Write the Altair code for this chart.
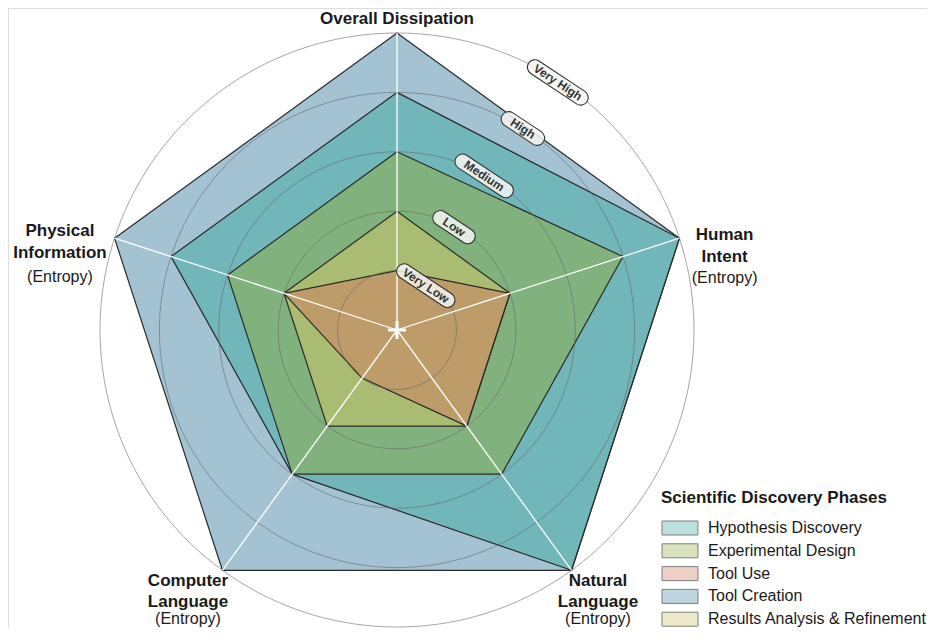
import math
import pandas as pd
import altair as alt

# ---------------- data ----------------
axes = ["Overall Dissipation", "Human Intent", "Natural Language",
        "Computer Language", "Physical Information"]
axis_title_lines = [["Overall Dissipation"], ["Human", "Intent"], ["Natural", "Language"],
                    ["Computer", "Language"], ["Physical", "Information"]]
axis_subtitle = ["", "(Entropy)", "(Entropy)", "(Entropy)", "(Entropy)"]

series = ["Hypothesis Discovery", "Experimental Design", "Tool Use",
          "Tool Creation", "Results Analysis & Refinement"]
hypothesis_discovery = [4, 5, 5, 3, 4]
experimental_design = [3, 4, 3, 3, 3]
tool_use = [1, 2, 2, 1, 2]
tool_creation = [5, 5, 5, 5, 5]
results_analysis = [2, 2, 2, 2, 2]

levels = [1, 2, 3, 4, 5]
level_labels = ["Very Low", "Low", "Medium", "High", "Very High"]

# ---------------- styles ----------------
base_colors = ["#3fa99f", "#91ad41", "#d37b61", "#4787a5", "#d1c565"]
swatch_colors = ["#9fd4cf", "#c8d6a0", "#e9bdb0", "#a3c3d2", "#e8e2b2"]
draw_order = ["Tool Creation", "Hypothesis Discovery", "Experimental Design",
              "Results Analysis & Refinement", "Tool Use"]
pill_widths = [67, 48, 67, 49, 70]
pill_angles = [57.0, 61.0, 60.5, 58.0, 57.0]
pill_rshift = [-0.11, -0.02, -0.02, 0.0, -0.03]
PILL_H = 15.0
FONT = "Liberation Sans"

W, H = 919, 620
CX, CY = 389.0, 322.0
PX = 59.4  # pixels per level unit

values = dict(zip(series, [hypothesis_discovery, experimental_design, tool_use,
                           tool_creation, results_analysis]))
axis_angles = [90 - 72 * i for i in range(len(axes))]


def polar(r, deg):
    a = math.radians(deg)
    return r * math.cos(a), r * math.sin(a)


poly_rows = []
for s in series:
    for i, v in enumerate(values[s]):
        x, y = polar(v, axis_angles[i])
        poly_rows.append({"series": s, "axis": axes[i], "idx": i, "value": v, "x": x, "y": y})
poly_df = pd.DataFrame(poly_rows)

key_df = pd.DataFrame({"series": series, "x": [0.0] * len(series), "y": [0.0] * len(series)})

circle_rows = []
for lv in levels:
    for t in range(0, 360, 2):
        x, y = polar(lv, t)
        circle_rows.append({"level": lv, "t": t, "x": x, "y": y})
circle_df = pd.DataFrame(circle_rows)

spoke_rows = []
for i, a in enumerate(axis_angles):
    x2, y2 = polar(max(levels), a)
    spoke_rows.append({"axis": axes[i], "x": 0.0, "y": 0.0, "x2": x2, "y2": y2})
spoke_df = pd.DataFrame(spoke_rows)

center_df = pd.DataFrame([{"x": 0.0, "y": 0.0}])

lab_rows = []
for lv, lab, ang, dr in zip(levels, level_labels, pill_angles, pill_rshift):
    x, y = polar(lv + dr, ang)
    lab_rows.append({"label": lab, "x": x, "y": y})
lab_df = pd.DataFrame(lab_rows)


def pill_path(w, h=PILL_H):
    s = h / 2.0
    a = (w / 2.0 - s) / s
    k = 0.5523
    return (f"M{-a:.3f},-1L{a:.3f},-1C{a + k:.3f},-1 {a + 1:.3f},{-k} {a + 1:.3f},0"
            f"C{a + 1:.3f},{k} {a + k:.3f},1 {a:.3f},1L{-a:.3f},1"
            f"C{-a - k:.3f},1 {-a - 1:.3f},{k} {-a - 1:.3f},0"
            f"C{-a - 1:.3f},{-k} {-a - k:.3f},-1 {-a:.3f},-1Z")


pill_paths = [pill_path(w) for w in pill_widths]

label_style = {
    "Overall Dissipation": {"r": 5.25, "dx": 0.0, "dy": [6.0]},
    "Human Intent": {"r": 5.8, "dx": 0.0, "dy": [16.5, 38.5, 59.0]},
    "Natural Language": {"r": 5.8, "dx": -1.5, "dy": [-22.7, -1.7, 15.3]},
    "Computer Language": {"r": 5.8, "dx": -6.5, "dy": [-22.7, -1.7, 15.3]},
    "Physical Information": {"r": 5.8, "dx": -9.4, "dy": [12.5, 34.5, 58.0]},
}
axlab_rows = []
for i, ax in enumerate(axes):
    st = label_style[ax]
    ax0, ay0 = polar(st["r"], axis_angles[i])
    lines = [(t, "bold") for t in axis_title_lines[i]]
    if axis_subtitle[i]:
        lines.append((axis_subtitle[i], "normal"))
    for (txt, wt), dy in zip(lines, st["dy"]):
        axlab_rows.append({"text": txt, "weight": wt,
                           "x": ax0 + st["dx"] / PX, "y": ay0 - dy / PX})
axlab_df = pd.DataFrame(axlab_rows)

# ---------------- scales ----------------
xs = alt.Scale(domain=[-CX / PX, (W - CX) / PX], nice=False, zero=False)
ys = alt.Scale(domain=[-(H - CY) / PX, CY / PX], nice=False, zero=False)
X = alt.X("x:Q", scale=xs, axis=None)
Y = alt.Y("y:Q", scale=ys, axis=None)

legend = alt.Legend(
    title="Scientific Discovery Phases", orient="none", legendX=653, legendY=482,
    padding=0, symbolType="M-1,-1H4.14V1H-1Z", symbolSize=196,
    symbolStrokeColor="#4a4a4a", symbolStrokeWidth=1,
    labelFont=FONT, labelFontSize=16, labelColor="#1a1a1a", labelOffset=31,
    titleFont=FONT, titleFontSize=17, titleFontWeight="bold", titleColor="#1a1a1a",
    titlePadding=13, rowPadding=4.8, labelLimit=400, titleLimit=400,
)

# legend key layer (hidden under the polygons at the centre)
key_layer = alt.Chart(key_df).mark_point(filled=True, size=1).encode(
    x=X, y=Y,
    color=alt.Color("series:N", scale=alt.Scale(domain=series, range=swatch_colors), legend=legend),
)

fill_enc = alt.Fill("series:N", scale=alt.Scale(domain=series, range=base_colors), legend=None)

layers = []
for s in draw_order:
    layers.append(
        alt.Chart(poly_df)
        .transform_filter(alt.FieldEqualPredicate(field="series", equal=s))
        .mark_line(interpolate="linear-closed", stroke="#2b2b2b", strokeWidth=1.2,
                   fillOpacity=0.5, strokeJoin="miter")
        .encode(x=X, y=Y, order="idx:Q", fill=fill_enc)
    )

circles = alt.Chart(circle_df).mark_line(
    interpolate="linear-closed", stroke="#666666", strokeWidth=0.9, opacity=0.65
).encode(x=X, y=Y, detail="level:N", order="t:Q")

spokes = alt.Chart(spoke_df).mark_rule(stroke="white", strokeWidth=1.3).encode(
    x=X, y=Y, x2="x2:Q", y2="y2:Q")

cross = alt.Chart(center_df).mark_point(
    shape="M-1,-0.17H1V0.17H-1Z M-0.17,-1H0.17V1H-0.17Z", filled=True, fill="white",
    size=324, opacity=1, strokeWidth=0
).encode(x=X, y=Y)

pills = alt.Chart(lab_df).mark_point(
    filled=True, fill="#f6f6f2", fillOpacity=0.85, stroke="#333333", strokeWidth=1.1,
    strokeOpacity=1, size=PILL_H * PILL_H, angle=33.5
).encode(x=X, y=Y, shape=alt.Shape("label:N", scale=alt.Scale(domain=level_labels, range=pill_paths),
                                   legend=None))

pill_text = alt.Chart(lab_df).mark_text(
    angle=33.5, font=FONT, fontWeight="bold", fontSize=12, color="#333333",
    align="center", baseline="middle"
).encode(x=X, y=Y, text="label:N")

axlab_bold = alt.Chart(axlab_df).transform_filter(
    alt.FieldEqualPredicate(field="weight", equal="bold")
).mark_text(font=FONT, fontWeight="bold", fontSize=17, color="#1a1a1a",
            align="center", baseline="alphabetic").encode(x=X, y=Y, text="text:N")

axlab_norm = alt.Chart(axlab_df).transform_filter(
    alt.FieldEqualPredicate(field="weight", equal="normal")
).mark_text(font=FONT, fontSize=16, color="#1a1a1a",
            align="center", baseline="alphabetic").encode(x=X, y=Y, text="text:N")

chart = alt.layer(
    key_layer, *layers, circles, spokes, cross, pills, pill_text, axlab_bold, axlab_norm
).properties(
    width=W, height=H, padding=0, autosize=alt.AutoSizeParams(type="none")
).configure_view(strokeOpacity=0, strokeWidth=0, fill="white").configure(font=FONT)

chart.save("out.html", embed_options={"renderer": "svg", "actions": False})
